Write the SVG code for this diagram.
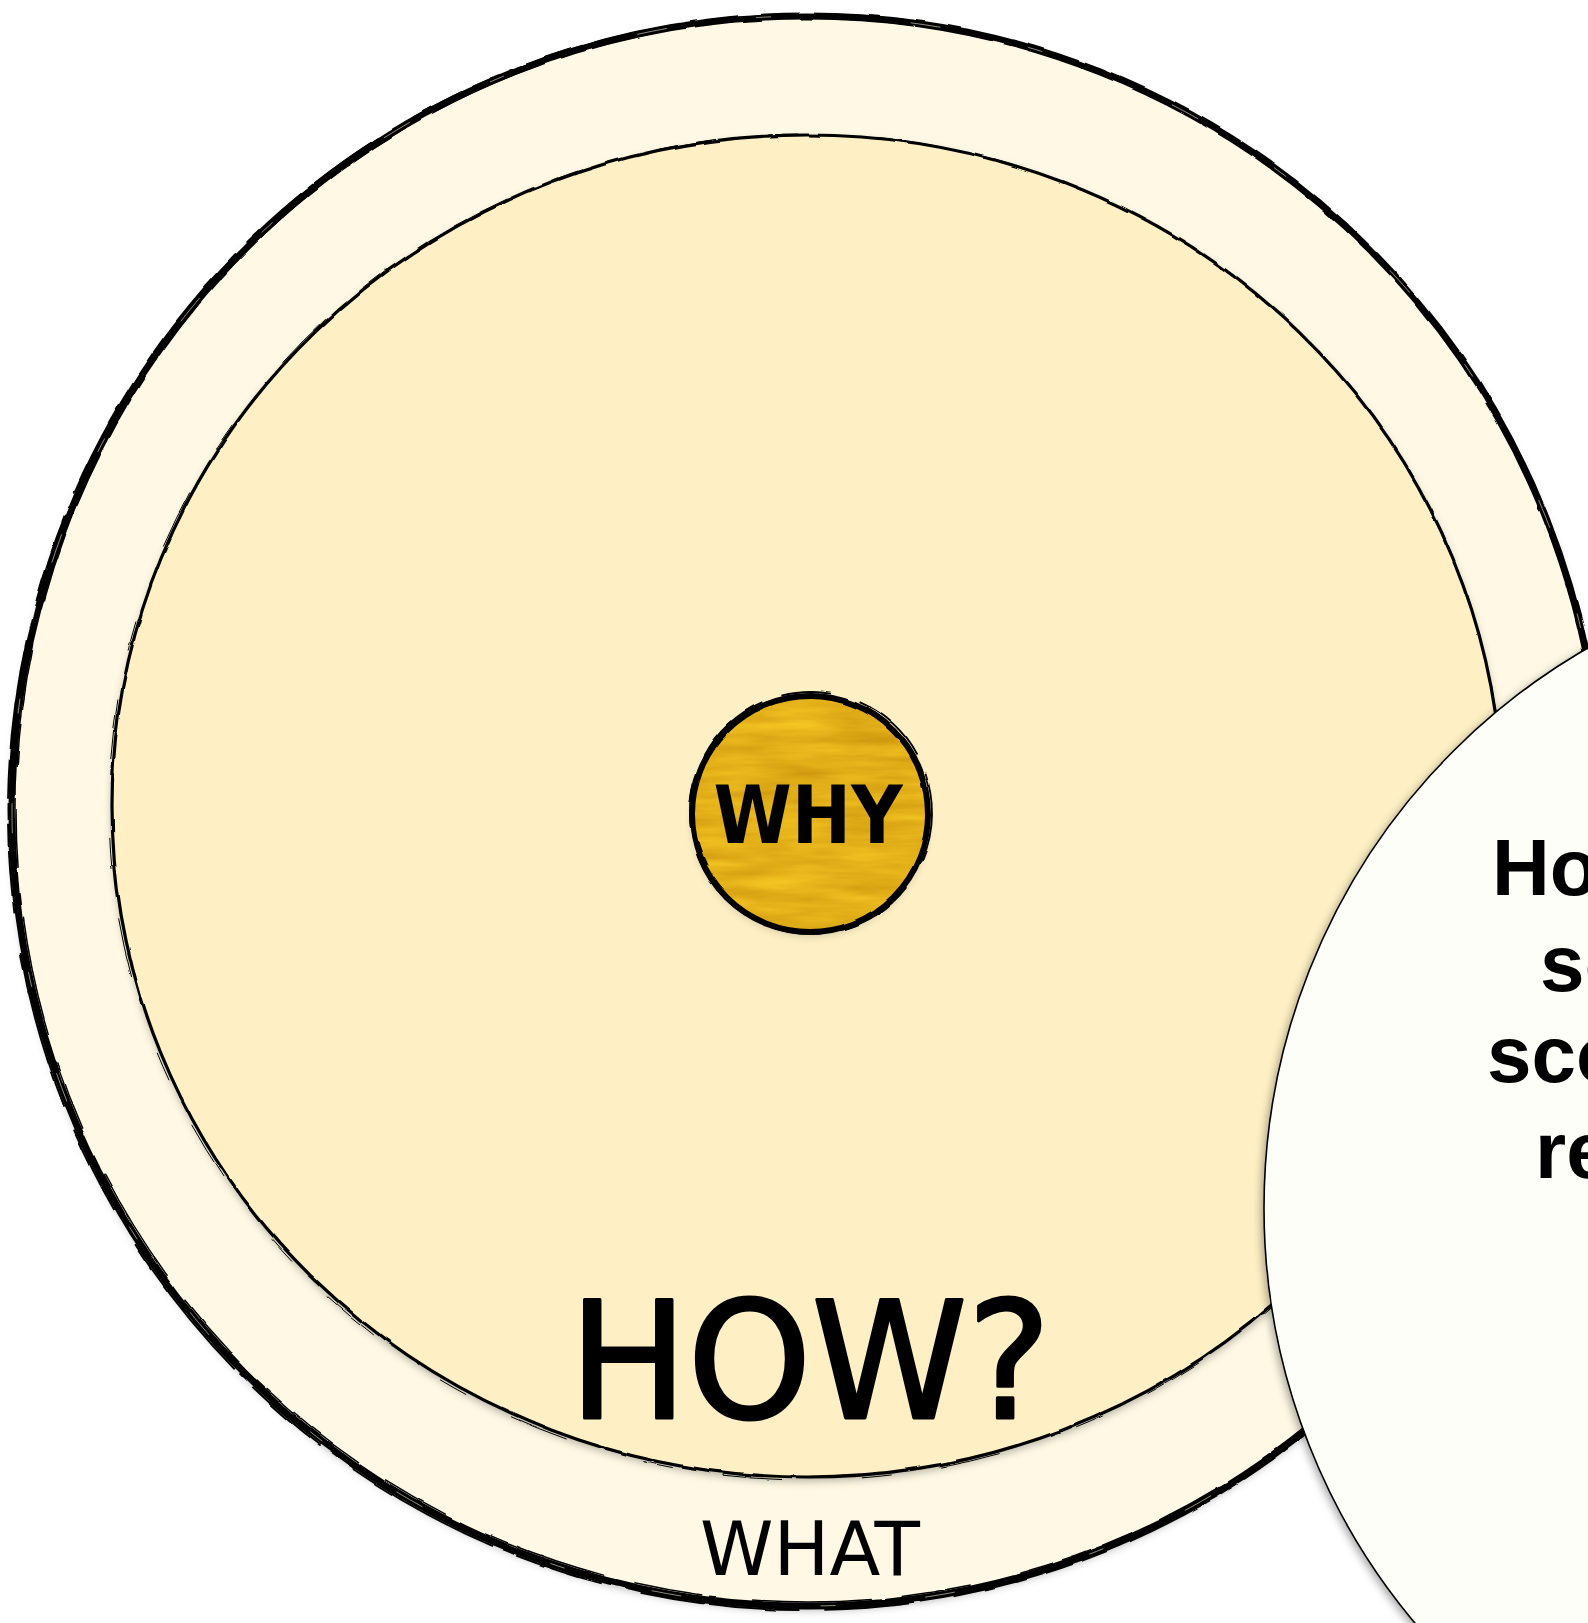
<svg xmlns="http://www.w3.org/2000/svg" width="1588" height="1623" viewBox="0 0 1588 1623">
  <style>
    .lbl { font-family: "DejaVu Sans", "Liberation Sans", sans-serif; fill: #000; }
    .side { font-family: "Liberation Sans", "DejaVu Sans", sans-serif; font-weight: bold; font-size: 80px; fill: #000; }
    .ink { fill: none; stroke: #000; }
  </style>
  <defs>
    <filter id="shadow" x="-10%" y="-10%" width="120%" height="120%">
      <feDropShadow dx="0" dy="4" stdDeviation="4" flood-color="#000" flood-opacity="0.3"/>
    </filter>
    <filter id="shadowL" x="-10%" y="-10%" width="120%" height="120%">
      <feDropShadow dx="-2" dy="3" stdDeviation="4" flood-color="#000" flood-opacity="0.35"/>
    </filter>
    <filter id="rough" x="-5%" y="-5%" width="110%" height="110%">
      <feTurbulence type="fractalNoise" baseFrequency="0.03" numOctaves="2" seed="7" result="t"/>
      <feDisplacementMap in="SourceGraphic" in2="t" scale="3" xChannelSelector="R" yChannelSelector="G"/>
    </filter>
    <filter id="gold" x="0" y="0" width="1" height="1" color-interpolation-filters="sRGB">
      <feTurbulence type="fractalNoise" baseFrequency="0.012 0.09" numOctaves="3" seed="4" result="n"/>
      <feColorMatrix in="n" type="matrix" values="0.18 0 0 0 0.80  0.22 0 0 0 0.58  0.10 0 0 0 0.05  0 0 0 0 1" result="c"/>
      <feComposite in="c" in2="SourceGraphic" operator="in"/>
    </filter>
  </defs>

  <g id="connectors"/>

  <g id="what-ring">
    <circle cx="807" cy="811" r="795" fill="#FEF8E4" filter="url(#shadow)"/>
    <g filter="url(#rough)">
      <circle class="ink" cx="807" cy="811" r="795" stroke-width="7"/>
      <circle class="ink" cx="806" cy="812" r="798" stroke-width="2" stroke-dasharray="160 40 90 25"/>
      <circle class="ink" cx="808" cy="810" r="792" stroke-width="1.5" stroke-dasharray="70 30 120 50"/>
    </g>
    <circle cx="807" cy="811" r="795" fill="none" stroke="#FEF8E4" stroke-width="0.8" stroke-dasharray="30 90 15 140" opacity="0.7"/>
    <text class="lbl" x="810" y="1575" font-size="75" text-anchor="middle" textLength="220" lengthAdjust="spacingAndGlyphs">WHAT</text>
  </g>

  <g id="how-ring">
    <ellipse cx="807" cy="806" rx="695" ry="671" fill="#FEF0C4" filter="url(#shadow)"/>
    <g filter="url(#rough)">
      <ellipse class="ink" cx="807" cy="806" rx="695" ry="671" stroke-width="3.2"/>
      <ellipse class="ink" cx="806" cy="807" rx="697" ry="673" stroke-width="1" stroke-dasharray="60 50 30 80"/>
    </g>
    <text class="lbl" x="810" y="1418" font-size="162" text-anchor="middle" textLength="482" lengthAdjust="spacingAndGlyphs" stroke="#000" stroke-width="3" stroke-linejoin="round">HOW?</text>
  </g>

  <g id="why-node">
    <circle cx="810" cy="814" r="118" fill="#000" filter="url(#shadow)" opacity="0.6"/>
    <circle cx="810" cy="814" r="118" fill="#E2AC1F" filter="url(#gold)"/>
    <g filter="url(#rough)">
      <circle class="ink" cx="810" cy="814" r="118" stroke-width="6"/>
      <circle class="ink" cx="811" cy="813" r="121" stroke-width="1.8" stroke-dasharray="50 30 80 20"/>
    </g>
    <text class="lbl" x="808" y="843" font-size="80" font-weight="bold" text-anchor="middle" textLength="189" lengthAdjust="spacingAndGlyphs">WHY</text>
  </g>

  <g id="callout">
    <circle cx="1910" cy="1208" r="646" fill="#FEFEF9" stroke="#000" stroke-width="1.6" filter="url(#shadowL)"/>
    <text class="side" x="1492" y="895">Ho</text>
    <text class="side" x="1540" y="991">so</text>
    <text class="side" x="1487" y="1082">sco</text>
    <text class="side" x="1535" y="1178">re</text>
  </g>
</svg>
